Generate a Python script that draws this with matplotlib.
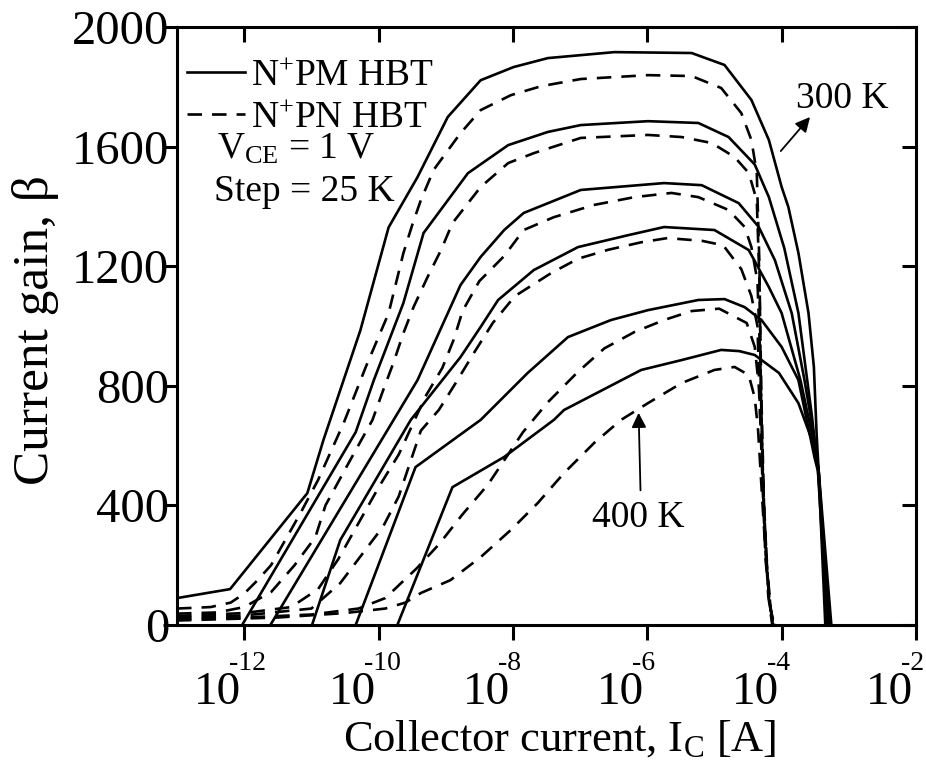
import numpy as np
import matplotlib
matplotlib.use("Agg")
import matplotlib.pyplot as plt
from matplotlib.transforms import blended_transform_factory, offset_copy

plt.rcParams['font.family'] = ['Liberation Serif', 'DejaVu Serif']
plt.rcParams['mathtext.fontset'] = 'custom'
plt.rcParams['mathtext.rm'] = 'Liberation Serif'
plt.rcParams['mathtext.it'] = 'Liberation Serif:italic'
plt.rcParams['mathtext.bf'] = 'Liberation Serif:bold'

# ---- data: log10(collector current [A]) and current gain beta ----
# N+PM HBT (solid), 6 temperatures from 300 K (top) to 400 K (bottom)
pm1_logI = [-13.00, -12.21, -11.06, -10.82, -10.27, -9.85, -9.42, -8.97, -8.48, -7.99, -7.48, -6.49, -5.34, -4.85, -4.45, -4.19, -4.00, -3.90, -3.75, -3.60, -3.52, -3.48, -3.45, -3.26]
pm1_beta = [90, 120, 441, 619, 986, 1330, 1498, 1699, 1822, 1866, 1896, 1916, 1913, 1873, 1756, 1622, 1465, 1398, 1244, 1043, 863, 642, 518, 0]
pm2_logI = [-12.03, -10.34, -10.07, -9.63, -9.33, -8.67, -8.07, -7.48, -6.99, -5.99, -5.24, -4.79, -4.40, -4.19, -3.96, -3.75, -3.55, -3.46, -3.28]
pm2_beta = [0, 645, 819, 1077, 1311, 1511, 1605, 1649, 1672, 1685, 1679, 1632, 1540, 1431, 1260, 1043, 700, 520, 0]
pm3_logI = [-11.61, -9.42, -8.78, -8.48, -8.13, -7.84, -6.99, -5.75, -5.19, -4.64, -4.34, -4.10, -3.85, -3.66, -3.51, -3.45, -3.30]
pm3_beta = [0, 819, 1137, 1231, 1321, 1378, 1455, 1478, 1471, 1411, 1331, 1220, 1043, 819, 619, 520, 0]
pm4_logI = [-10.99, -10.57, -9.52, -8.78, -8.48, -8.22, -7.69, -7.03, -6.28, -5.75, -5.00, -4.49, -4.19, -4.00, -3.72, -3.53, -3.45, -3.31]
pm4_beta = [0, 284, 686, 896, 997, 1087, 1187, 1264, 1304, 1331, 1321, 1254, 1130, 1043, 819, 619, 520, 0]
pm5_logI = [-10.34, -9.45, -8.48, -7.78, -7.18, -6.54, -5.99, -5.24, -4.85, -4.55, -4.30, -4.00, -3.75, -3.51, -3.46, -3.32]
pm5_beta = [0, 528, 686, 843, 963, 1020, 1053, 1087, 1090, 1063, 1020, 930, 819, 560, 515, 0]
pm6_logI = [-9.72, -8.90, -8.13, -7.39, -7.24, -6.09, -5.49, -4.90, -4.63, -4.40, -4.04, -3.75, -3.55, -3.45, -3.35]
pm6_beta = [0, 461, 562, 686, 719, 853, 886, 920, 916, 903, 843, 742, 619, 518, 0]

# N+PN HBT (dashed)
pn1_logI = [-13.0, -12.5, -12.2, -12.0, -11.8, -11.6, -11.16, -10.90, -10.52, -10.19, -9.85, -9.63, -9.49, -9.37, -9.18, -8.78, -8.48, -8.03, -7.58, -6.99, -5.99, -5.34, -4.90, -4.60, -4.45, -4.37, -4.33, -4.31, -4.27, -4.20, -4.14]
pn1_beta = [55, 60, 75, 105, 150, 200, 375, 485, 675, 863, 1043, 1244, 1344, 1421, 1522, 1645, 1722, 1772, 1802, 1826, 1839, 1836, 1796, 1712, 1622, 1512, 1200, 800, 400, 100, 0]
pn2_logI = [-13.0, -12.4, -12.0, -11.6, -11.25, -10.94, -10.79, -10.45, -10.09, -9.93, -9.78, -9.63, -9.48, -9.27, -9.07, -8.90, -8.48, -8.07, -7.69, -6.99, -5.99, -5.49, -5.04, -4.70, -4.49, -4.37, -4.33, -4.30, -4.26, -4.19, -4.13]
pn2_beta = [38, 42, 60, 110, 200, 294, 400, 540, 686, 786, 876, 976, 1063, 1164, 1254, 1344, 1465, 1545, 1578, 1629, 1639, 1632, 1612, 1565, 1512, 1420, 1150, 750, 380, 90, 0]
pn3_logI = [-13.0, -12.0, -11.3, -10.9, -10.6, -10.3, -10.0, -9.7, -9.30, -9.05, -8.88, -8.75, -8.50, -8.13, -7.84, -7.39, -6.79, -6.19, -5.64, -5.24, -4.79, -4.55, -4.45, -4.36, -4.32, -4.29, -4.25, -4.18, -4.12]
pn3_beta = [30, 40, 60, 120, 220, 340, 460, 570, 765, 860, 955, 1050, 1150, 1234, 1321, 1364, 1405, 1431, 1445, 1431, 1388, 1331, 1264, 1150, 900, 600, 300, 70, 0]
pn4_logI = [-13.0, -12.0, -11.0, -10.57, -10.2, -9.93, -9.70, -9.37, -9.10, -8.85, -8.58, -8.30, -7.97, -7.43, -7.03, -6.58, -6.09, -5.70, -5.19, -4.87, -4.60, -4.45, -4.36, -4.32, -4.28, -4.24, -4.17, -4.12]
pn4_beta = [25, 32, 55, 140, 250, 330, 430, 650, 720, 810, 910, 1010, 1100, 1177, 1225, 1255, 1280, 1294, 1285, 1270, 1190, 1100, 1000, 700, 450, 220, 60, 0]
pn5_logI = [-13.0, -12.0, -11.0, -10.3, -9.9, -9.43, -9.1, -8.75, -8.37, -7.85, -7.48, -7.04, -6.64, -6.19, -5.75, -5.34, -4.93, -4.52, -4.40, -4.34, -4.30, -4.26, -4.22, -4.16, -4.11]
pn5_beta = [20, 25, 35, 55, 90, 190, 270, 370, 470, 645, 745, 845, 925, 980, 1020, 1050, 1058, 1010, 930, 800, 600, 400, 200, 50, 0]
pn6_logI = [-13.0, -11.5, -10.5, -9.90, -9.60, -9.37, -8.93, -8.48, -8.03, -7.63, -7.24, -6.79, -6.39, -5.99, -5.49, -5.00, -4.70, -4.49, -4.40, -4.35, -4.31, -4.27, -4.22, -4.16, -4.11]
pn6_beta = [15, 25, 40, 55, 75, 107, 150, 227, 318, 408, 508, 609, 686, 742, 809, 853, 863, 836, 760, 650, 500, 350, 180, 50, 0]

x_tick_exps = [-12, -10, -8, -6, -4, -2]
y_ticks = [0, 400, 800, 1200, 1600, 2000]

pm_curves = [(pm1_logI, pm1_beta), (pm2_logI, pm2_beta), (pm3_logI, pm3_beta),
             (pm4_logI, pm4_beta), (pm5_logI, pm5_beta), (pm6_logI, pm6_beta)]
pn_curves = [(pn1_logI, pn1_beta), (pn2_logI, pn2_beta), (pn3_logI, pn3_beta),
             (pn4_logI, pn4_beta), (pn5_logI, pn5_beta), (pn6_logI, pn6_beta)]

fig = plt.figure(figsize=(9.26, 7.69), dpi=100)
ax = fig.add_axes([177/926, 1-625/769, (916-177)/926, (625-27)/769])

lw = 1.9
for i, (lx, b) in enumerate(pm_curves):
    ax.plot(10.0**np.array(lx), b, color='black', lw=lw, solid_joinstyle='round',
            label='N$^{+}$PM HBT' if i == 0 else None)
for i, (lx, b) in enumerate(pn_curves):
    ax.plot(10.0**np.array(lx), b, color='black', lw=lw, linestyle=(0, (5.5, 3.8)),
            label='N$^{+}$PN HBT' if i == 0 else None)

ax.set_xscale('log')
ax.set_xlim(1e-13, 1e-2)
ax.set_ylim(0, 2000)
ax.set_xticks([10.0**e for e in x_tick_exps])
ax.set_xticklabels([])
ax.xaxis.set_minor_locator(matplotlib.ticker.NullLocator())
ax.set_yticks(y_ticks)
ax.set_yticklabels([str(v) for v in y_ticks])

for s in ax.spines.values():
    s.set_linewidth(2.2)
ax.tick_params(axis='both', which='major', width=2.2, top=True, right=True)
ax.tick_params(axis='y', labelsize=35, pad=2)
for t in ax.xaxis.get_major_ticks():
    t.tick1line.set_marker(matplotlib.markers.TICKDOWN)
    t.tick1line.set_markersize(11)
    t.tick2line.set_marker(matplotlib.markers.TICKDOWN)
    t.tick2line.set_markersize(11)
for t in ax.yaxis.get_major_ticks():
    t.tick1line.set_marker(matplotlib.markers.TICKLEFT)
    t.tick1line.set_markersize(10)
    t.tick2line.set_marker(matplotlib.markers.TICKLEFT)
    t.tick2line.set_markersize(10)

# x tick labels drawn as "10" with a raised exponent
trans = blended_transform_factory(ax.transData, ax.transAxes)
for e in x_tick_exps:
    t10 = offset_copy(trans, fig=fig, x=-3, y=-79, units='dots')
    ax.text(10.0**e, 0, '10', transform=t10, ha='right', va='baseline', fontsize=34,
            clip_on=False)
    texp = offset_copy(trans, fig=fig, x=-15, y=-45, units='dots')
    ax.text(10.0**e, 0, '%d' % e, transform=texp, ha='left', va='baseline', fontsize=20,
            clip_on=False)

ax.set_xlabel('Collector current, I$_{\\rm C}$ [A]', fontsize=32, va='baseline')
ax.xaxis.set_label_coords((560-177)/739, (625-751)/598)
ax.set_ylabel('Current gain, \u03b2', fontsize=37, va='bottom')
ax.yaxis.set_label_coords((59-177)/739, (625-330)/598)

leg = ax.legend(loc='upper left', bbox_to_anchor=(-0.017, 0.985), frameon=False,
                fontsize=27, handlelength=1.55, handletextpad=0.15,
                labelspacing=0.2, borderaxespad=0.2)

ax.text(10.0**-12.4, 1590, 'V$_{\\rm CE}$ = 1 V', fontsize=27, ha='left', va='center')
ax.text(10.0**-12.45, 1450, 'Step = 25 K', fontsize=27, ha='left', va='center')

ax.annotate('', xy=(10.0**-3.55, 1706), xytext=(10.0**-4.04, 1578),
            arrowprops=dict(arrowstyle='-|>', lw=1.3, color='black', mutation_scale=22))
ax.text(10.0**-3.78, 1760, '300 K', fontsize=27, ha='left', va='center')
ax.annotate('', xy=(10.0**-6.13, 719), xytext=(10.0**-6.10, 441),
            arrowprops=dict(arrowstyle='-|>', lw=1.3, color='black', mutation_scale=22))
ax.text(10.0**-6.13, 360, '400 K', fontsize=27, ha='center', va='center')

fig.savefig('out.png', dpi=100)
